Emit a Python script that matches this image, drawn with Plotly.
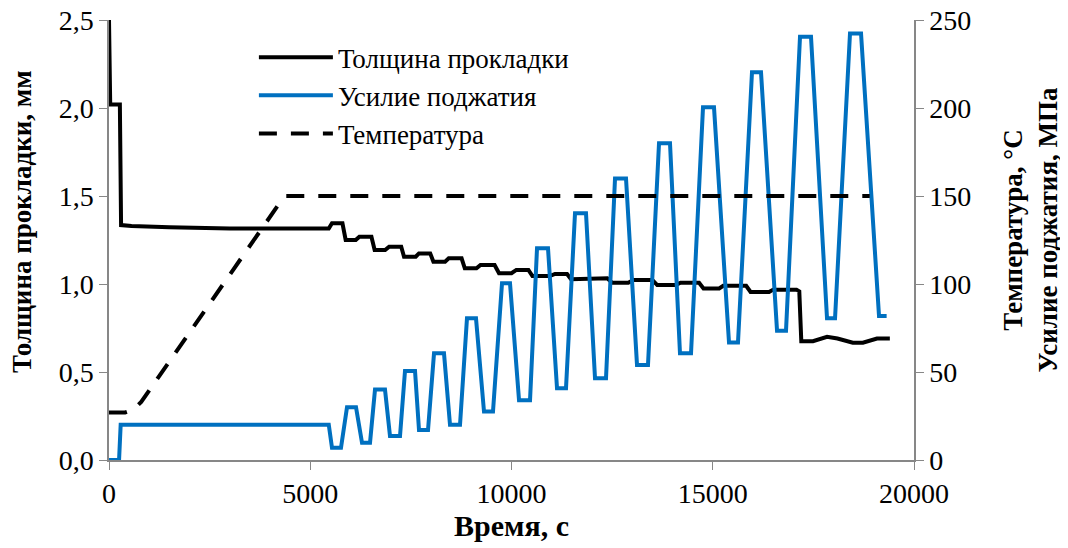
import plotly.graph_objects as go

# ---- data ----
thick_t = [0, 30, 270, 300, 560, 1500, 3000, 4500, 5460, 5540, 5800, 5880, 6130, 6220, 6520,
           6600, 6860, 6960, 7260, 7330, 7620, 7700, 7980, 8060, 8350, 8440, 8760, 8840, 9130,
           9230, 9580, 9690, 10000, 10120, 10420, 10520, 10950, 11080, 11380, 11480, 11880,
           12030, 12380, 12500, 12900, 13030, 13500, 13620, 14080, 14200, 14660, 14770, 15160,
           15260, 15830, 15940, 16400, 16500, 17080, 17150, 17200, 17490, 17840, 18100, 18480,
           18730, 19080, 19400]
thick_v = [2.5, 2.02, 2.02, 1.335, 1.33, 1.322, 1.316, 1.312, 1.315, 1.345, 1.345, 1.25, 1.25,
           1.269, 1.269, 1.193, 1.193, 1.212, 1.212, 1.155, 1.155, 1.174, 1.174, 1.127, 1.127,
           1.146, 1.146, 1.089, 1.089, 1.108, 1.108, 1.061, 1.061, 1.08, 1.08, 1.045, 1.045,
           1.057, 1.057, 1.027, 1.027, 1.032, 1.032, 1.007, 1.007, 1.023, 1.023, 0.994, 0.994,
           1.007, 1.007, 0.975, 0.975, 0.99, 0.99, 0.955, 0.955, 0.968, 0.968, 0.958, 0.675,
           0.675, 0.70, 0.69, 0.666, 0.666, 0.69, 0.69]

force_t = [0, 250, 290, 5460, 5540, 5764, 5913, 6137, 6286, 6485, 6609, 6857, 6981, 7230,
           7354, 7603, 7702, 7926, 8075, 8323, 8472, 8721, 8894, 9118, 9317, 9540, 9764, 9963,
           10187, 10460, 10634, 10907, 11131, 11354, 11578, 11851, 12075, 12348, 12572, 12845,
           13118, 13391, 13665, 13938, 14186, 14460, 14758, 15031, 15404, 15627, 15975, 16199,
           16597, 16820, 17168, 17441, 17839, 18038, 18410, 18684, 19131, 19320]
force_v = [0, 0, 20, 20, 7, 7, 30, 30, 9.8, 9.8, 40, 40, 13.6, 13.6, 50.6, 50.6, 17, 17,
           60.6, 60.6, 20, 20, 80.5, 80.5, 27.5, 27.5, 100.4, 100.4, 34, 34, 120.3, 120.3,
           40.7, 40.7, 140.2, 140.2, 46.4, 46.4, 160, 160, 54, 54, 180, 180, 60.6, 60.6,
           200.4, 200.4, 66.7, 66.7, 220.3, 220.3, 73.5, 73.5, 240.5, 240.5, 80.5, 80.5,
           242.4, 242.4, 81.8, 81.8]

temp_t = [0, 400, 600, 800, 4300, 4400, 18900]
temp_v = [27, 27, 28.5, 33, 148, 150, 150]

x_ticks = [0, 5000, 10000, 15000, 20000]
x_text = ["0", "5000", "10000", "15000", "20000"]
y_left_ticks = [0, 0.5, 1.0, 1.5, 2.0, 2.5]
y_left_text = ["0,0", "0,5", "1,0", "1,5", "2,0", "2,5"]
y_right_ticks = [0, 50, 100, 150, 200, 250]

left_title = "Толщина прокладки, мм"
right_title = "Температура, °С<br>Усилие поджатия, МПа"

FONT = "'Liberation Serif', 'Times New Roman', 'DejaVu Serif', serif"
AX = "#878787"

fig = go.Figure()
fig.add_trace(go.Scatter(x=thick_t, y=thick_v, mode="lines", name="Толщина прокладки",
                         line=dict(color="#000000", width=4), yaxis="y"))
fig.add_trace(go.Scatter(x=force_t, y=force_v, mode="lines", name="Усилие поджатия",
                         line=dict(color="#0070C0", width=4), yaxis="y2"))
fig.add_trace(go.Scatter(x=temp_t, y=temp_v, mode="lines", name="Температура",
                         line=dict(color="#000000", width=4, dash="18px,14px"), yaxis="y2"))

tickfont = dict(family=FONT, size=28, color="#000000")
fig.update_layout(
    width=1068, height=548,
    margin=dict(l=101, r=162, t=12, b=96, autoexpand=False),
    paper_bgcolor="white", plot_bgcolor="white",
    font=dict(family=FONT, color="#000000"),
    showlegend=True,
    legend=dict(x=0.18, y=0.97, xanchor="left", yanchor="top",
                font=dict(family=FONT, size=27, color="#000000"),
                bgcolor="rgba(0,0,0,0)", itemwidth=74, tracegroupgap=0),
    xaxis=dict(range=[0, 20000], tickvals=x_ticks, ticktext=x_text, ticks="outside",
               ticklen=8, tickcolor=AX, showline=True, linecolor=AX, linewidth=1.5,
               showgrid=False, zeroline=False, tickfont=tickfont, automargin=False,
               ticklabeloverflow="allow",
               title=dict(text="<b>Время, с</b>", font=dict(family=FONT, size=30),
                          standoff=4)),
    yaxis=dict(range=[0, 2.5], tickvals=y_left_ticks, ticktext=y_left_text,
               ticks="outside", ticklen=8, tickcolor=AX, showline=True, linecolor=AX,
               linewidth=1.5, showgrid=False, zeroline=False, tickfont=tickfont,
               automargin=False, ticklabeloverflow="allow"),
    yaxis2=dict(range=[0, 250], tickvals=y_right_ticks, overlaying="y", side="right",
                ticks="outside", ticklen=8, tickcolor=AX, showline=True, linecolor=AX,
                linewidth=1.5, showgrid=False, zeroline=False, tickfont=tickfont,
                automargin=False, ticklabeloverflow="allow"),
    annotations=[
        dict(text="<b>" + left_title + "</b>", textangle=-90, xref="paper", yref="paper",
             x=-0.108, y=0.541, xanchor="center", yanchor="middle", showarrow=False,
             font=dict(family=FONT, size=27, color="#000000")),
        dict(text="<b>" + right_title + "</b>", textangle=-90, xref="paper", yref="paper",
             x=1.145, y=0.523, xanchor="center", yanchor="middle", showarrow=False,
             font=dict(family=FONT, size=27, color="#000000")),
    ],
)

fig.write_html("out.html")
